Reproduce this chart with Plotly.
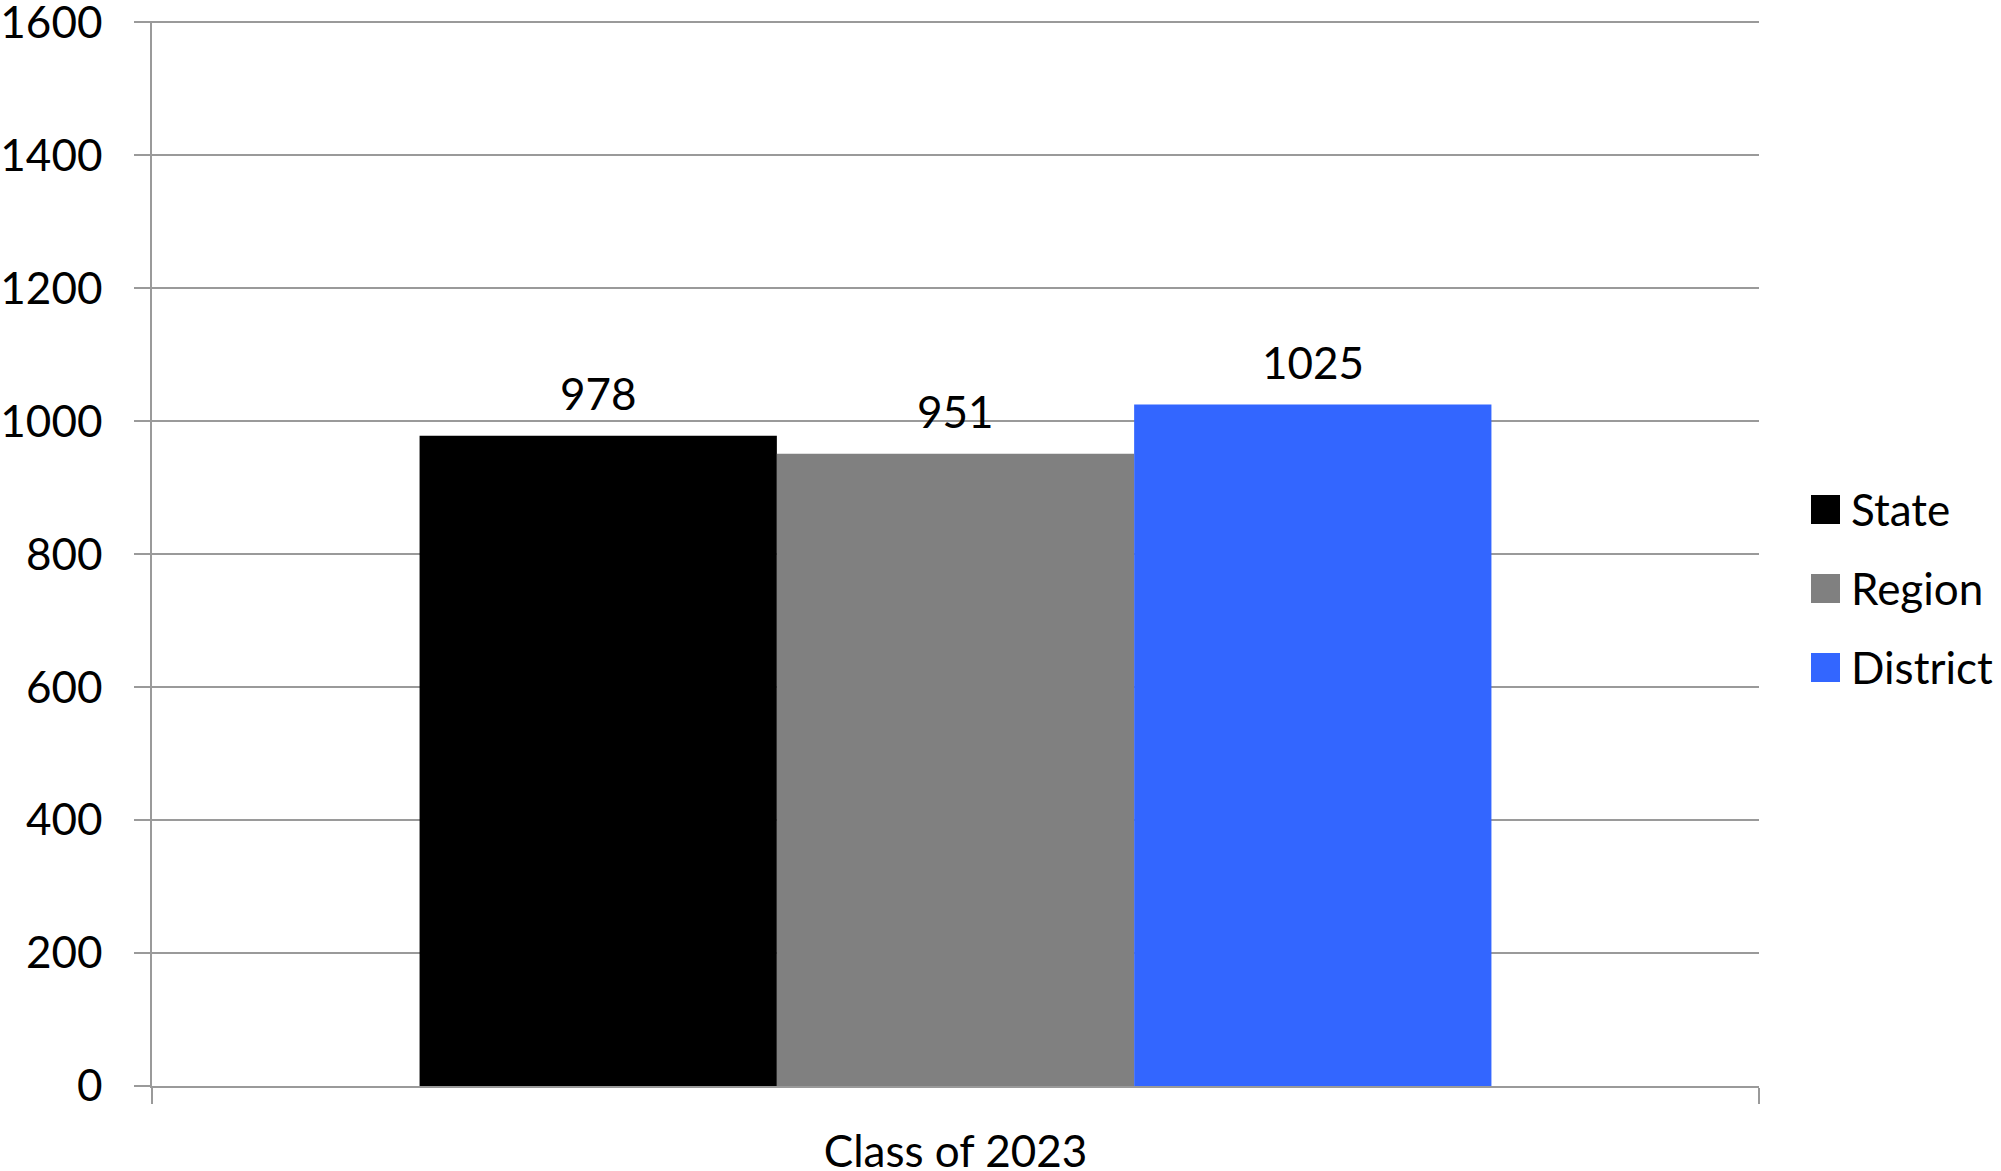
import plotly.graph_objects as go

categories = ["Class of 2023"]
series_names = ["State", "Region", "District"]
series_values = [[978], [951], [1025]]
series_colors = ["#000000", "#808080", "#3366FF"]
y_ticks = [0, 200, 400, 600, 800, 1000, 1200, 1400, 1600]

W, H = 2001, 1171
ML, MR, MT, MB = 152, 242, 21, 85
FONT = "Lato"
FS = 44
GRID = "#9a9a9a"
BARGAP = 0.333

fig = go.Figure()
for name, vals, col in zip(series_names, series_values, series_colors):
    fig.add_trace(go.Bar(name=name, x=categories, y=vals, marker=dict(color=col, line=dict(width=0)),
                         showlegend=False))

# data labels above bars
n = len(series_names)
bw = (1 - BARGAP) / n
for i, vals in enumerate(series_values):
    for ci, v in enumerate(vals):
        xpos = ci - (1 - BARGAP) / 2 + bw * (i + 0.5)
        fig.add_annotation(x=xpos, y=v, xref="x", yref="y", text=str(v), showarrow=False,
                           yanchor="bottom", xanchor="center", yshift=15,
                           font=dict(family=FONT, size=FS, color="#000000"))

# custom legend
pw = W - ML - MR
ph = H - MT - MB
def px(xp):
    return (xp - ML) / pw
def py(yp):
    return 1 - (yp - MT) / ph

leg_top = [495, 574, 653]
sq = 29
for name, col, t in zip(series_names, series_colors, leg_top):
    fig.add_shape(type="rect", xref="paper", yref="paper",
                  x0=px(1811), x1=px(1811 + sq), y0=py(t + sq), y1=py(t),
                  fillcolor=col, line=dict(width=0))
    fig.add_annotation(x=px(1849), y=py(t + sq / 2 - 1), xref="paper", yref="paper", text=name,
                       showarrow=False, xanchor="left", yanchor="middle",
                       font=dict(family=FONT, size=FS, color="#000000"))

fig.update_layout(
    width=W, height=H,
    margin=dict(l=ML, r=MR, t=MT, b=MB, pad=0),
    paper_bgcolor="white", plot_bgcolor="white",
    barmode="group", bargap=BARGAP, bargroupgap=0,
    showlegend=False,
    font=dict(family=FONT, size=FS, color="#000000"),
)
fig.update_xaxes(
    type="category", showgrid=False, showline=True, linecolor=GRID, linewidth=1.5,
    ticks="outside", ticklen=16, tickcolor=GRID, tickwidth=1.5, tickson="boundaries",
    ticklabelstandoff=26, automargin=False, ticklabeloverflow="allow",
    tickfont=dict(family=FONT, size=FS, color="#000000"),
)
fig.update_yaxes(
    range=[0, 1602], tickvals=y_ticks, showgrid=True, gridcolor=GRID, gridwidth=1.5,
    zeroline=False, showline=True, linecolor=GRID, linewidth=1.5,
    ticks="outside", ticklen=16, tickcolor=GRID, tickwidth=1.5,
    ticklabelstandoff=23, automargin=False, ticklabeloverflow="allow",
    tickfont=dict(family=FONT, size=FS, color="#000000"),
)

fig.write_html("out.html", config={"displayModeBar": False},
               post_script="document.body.style.margin='0';document.body.style.overflow='hidden';")
